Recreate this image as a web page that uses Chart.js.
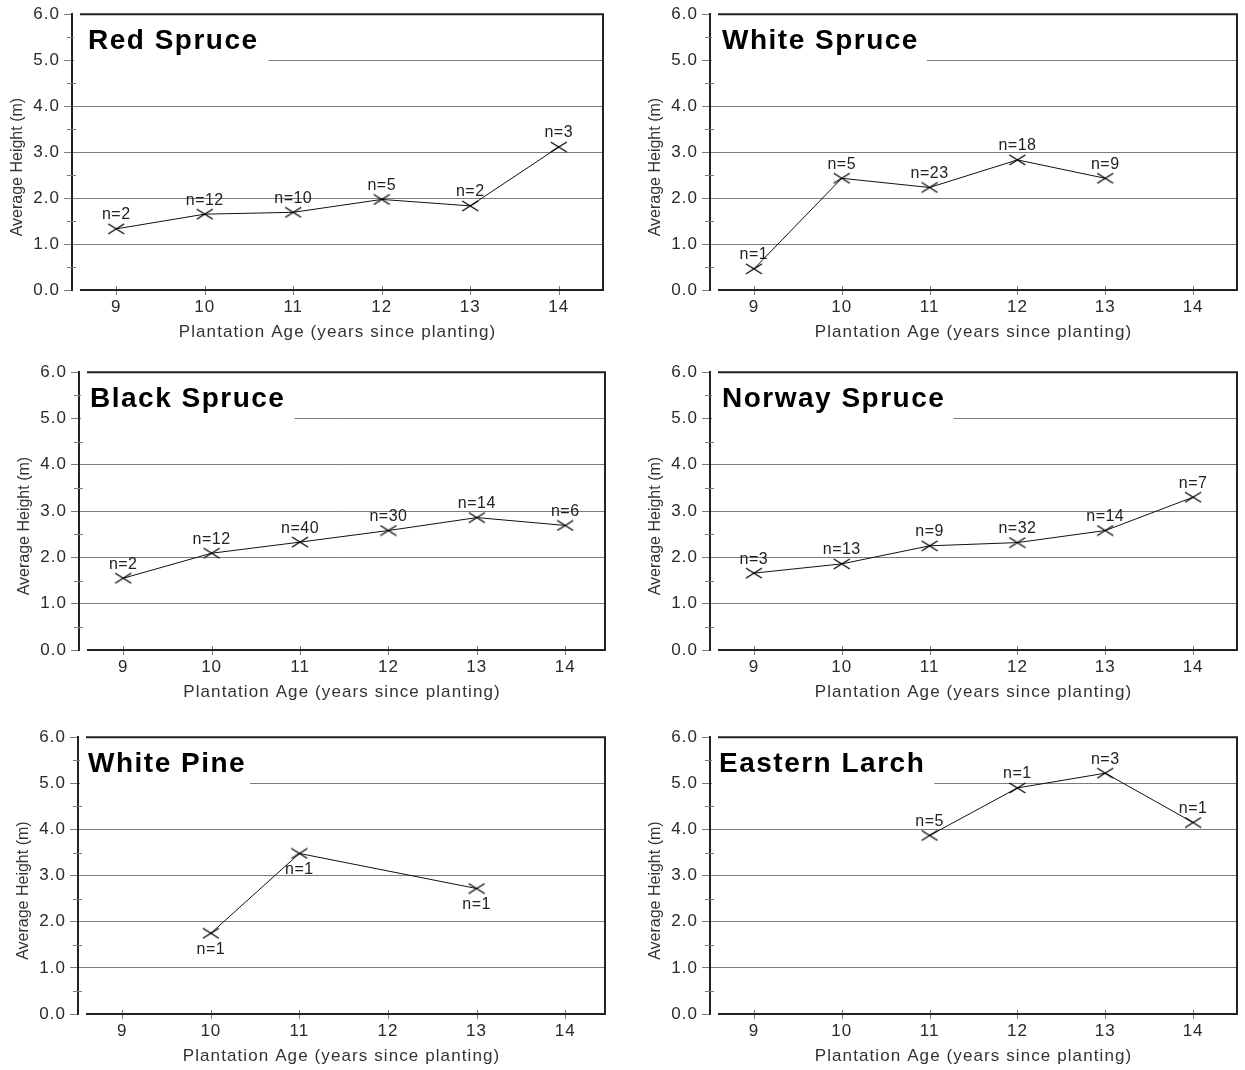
<!DOCTYPE html>
<html>
<head>
<meta charset="utf-8">
<script src="https://cdn.jsdelivr.net/npm/chart.js@4.4.1/dist/chart.umd.min.js"></script>
<style>
  body { margin: 0; background: #fff; width: 1245px; height: 1070px; overflow: hidden; position: relative; }
  canvas { position: absolute; }
</style>
</head>
<body>
<canvas id="redSpruce" width="611" height="350" style="left:0px;top:0px"></canvas>
<canvas id="whiteSpruce" width="606" height="350" style="left:638px;top:0px"></canvas>
<canvas id="blackSpruce" width="606" height="352" style="left:7px;top:358px"></canvas>
<canvas id="norwaySpruce" width="606" height="352" style="left:638px;top:358px"></canvas>
<canvas id="whitePine" width="606" height="351" style="left:6px;top:723px"></canvas>
<canvas id="easternLarch" width="606" height="351" style="left:638px;top:723px"></canvas>
<script>
// values
const ageTicks = [9, 10, 11, 12, 13, 14];
const heightTicks = [0, 1, 2, 3, 4, 5, 6];

const redAges = [9, 10, 11, 12, 13, 14];
const redHeights = [1.33, 1.65, 1.69, 1.97, 1.83, 3.11];
const redCounts = [2, 12, 10, 5, 2, 3];

const whiteSpruceAges = [9, 10, 11, 12, 13];
const whiteSpruceHeights = [0.46, 2.43, 2.23, 2.83, 2.43];
const whiteSpruceCounts = [1, 5, 23, 18, 9];

const blackAges = [9, 10, 11, 12, 13, 14];
const blackHeights = [1.55, 2.09, 2.33, 2.58, 2.86, 2.69];
const blackCounts = [2, 12, 40, 30, 14, 6];

const norwayAges = [9, 10, 11, 12, 13, 14];
const norwayHeights = [1.66, 1.86, 2.25, 2.32, 2.58, 3.30];
const norwayCounts = [3, 13, 9, 32, 14, 7];

const pineAges = [10, 11, 13];
const pineHeights = [1.75, 3.48, 2.72];
const pineCounts = [1, 1, 1];

const larchAges = [11, 12, 13, 14];
const larchHeights = [3.87, 4.90, 5.22, 4.15];
const larchCounts = [5, 1, 3, 1];

const xTitle = 'Plantation Age (years since planting)';
const yTitle = 'Average Height (m)';

const FONT = '"Liberation Sans", Arial, sans-serif';
const GRID = '#7c7c7c';
const INK = '#222';

// the little "x" marker, a bit wider than tall
const cross = document.createElement('canvas');
cross.width = 18;
cross.height = 12;
const g = cross.getContext('2d');
g.strokeStyle = '#000';
g.lineWidth = 1.3;
g.beginPath();
g.moveTo(1, 1); g.lineTo(17, 11);
g.moveTo(1, 11); g.lineTo(17, 1);
g.stroke();

const framePlugin = {
  id: 'frame',
  beforeDraw(chart) {
    chart.ctx.letterSpacing = '1px';
  },
  beforeDatasetsDraw(chart, args, opts) {
    const { ctx, chartArea: a, scales: { x, y } } = chart;
    ctx.save();
    ctx.strokeStyle = GRID;
    ctx.lineWidth = 1;
    ctx.beginPath();
    for (let i = 0; i < heightTicks.length - 1; i++) {
      const py = Math.round(y.getPixelForValue((heightTicks[i] + heightTicks[i + 1]) / 2)) + 0.5;
      ctx.moveTo(a.left - 5, py);
      ctx.lineTo(a.left + 4, py);
    }
    ageTicks.forEach((v) => {
      const px = Math.round(x.getPixelForValue(v)) + 0.5;
      ctx.moveTo(px, a.bottom - 4);
      ctx.lineTo(px, a.bottom + 5);
    });
    ctx.stroke();

    ctx.strokeStyle = INK;
    ctx.lineWidth = 2;
    ctx.beginPath();
    ctx.moveTo(a.left + 8, a.top);
    ctx.lineTo(a.right, a.top);
    ctx.lineTo(a.right, a.bottom);
    ctx.lineTo(a.left + 8, a.bottom);
    ctx.stroke();

    // axis titles
    ctx.fillStyle = '#333';
    ctx.textAlign = 'center';
    ctx.textBaseline = 'middle';
    ctx.font = '17px ' + FONT;
    ctx.letterSpacing = '1.1px';
    ctx.fillText(xTitle, (a.left + a.right) / 2, a.bottom + 42);
    ctx.save();
    ctx.translate(a.left - 54, (a.top + a.bottom) / 2 + 15);
    ctx.rotate(-Math.PI / 2);
    ctx.font = '16px ' + FONT;
    ctx.letterSpacing = '0px';
    ctx.fillText(yTitle, 0, 0);
    ctx.restore();

    // species name on a white patch that hides the 5.0 line
    ctx.font = 'bold 28px ' + FONT;
    ctx.letterSpacing = '1.5px';
    ctx.textAlign = 'left';
    const w = ctx.measureText(opts.title).width;
    ctx.fillStyle = '#fff';
    ctx.fillRect(a.left + 2, a.top + 2, w + opts.pad, 48);
    ctx.fillStyle = '#000';
    ctx.fillText(opts.title, a.left + opts.indent, a.top + 27);
    ctx.restore();
  }
};

const countPlugin = {
  id: 'counts',
  afterDatasetsDraw(chart, args, opts) {
    const { ctx } = chart;
    const meta = chart.getDatasetMeta(0);
    ctx.save();
    ctx.font = '16px ' + FONT;
    ctx.letterSpacing = '0.5px';
    ctx.fillStyle = INK;
    ctx.textAlign = 'center';
    meta.data.forEach((pt, i) => {
      const label = 'n=' + opts.counts[i];
      if (opts.below) {
        ctx.textBaseline = 'top';
        ctx.fillText(label, pt.x, pt.y + 8);
      } else {
        ctx.textBaseline = 'bottom';
        ctx.fillText(label, pt.x, pt.y - 6);
      }
    });
    ctx.restore();
  }
};

function makePanel(id, title, ages, heights, counts, below, rightPad, xMax, indent, pad) {
  return new Chart(document.getElementById(id), {
    type: 'line',
    data: {
      datasets: [{
        data: ages.map((a, i) => ({ x: a, y: heights[i] })),
        borderColor: '#111',
        borderWidth: 1,
        pointStyle: cross,
        pointRadius: 6,
        fill: false,
        tension: 0
      }]
    },
    options: {
      responsive: false,
      animation: false,
      layout: { padding: { top: 14, right: rightPad, left: 0, bottom: 0 } },
      plugins: {
        legend: { display: false },
        tooltip: { enabled: false },
        frame: { title: title, indent: indent, pad: pad },
        counts: { counts: counts, below: below }
      },
      scales: {
        x: {
          type: 'linear',
          min: 8.5,
          max: xMax,
          afterBuildTicks: (s) => { s.ticks = ageTicks.map((v) => ({ value: v })); },
          afterFit: (s) => { s.height = 60; },
          grid: { drawOnChartArea: false, drawTicks: false },
          border: { display: false },
          ticks: { padding: 7, color: '#2a2a2a', font: { family: FONT, size: 17 }, callback: (v) => String(v) },
          title: { display: false }
        },
        y: {
          min: 0,
          max: 6,
          afterBuildTicks: (s) => { s.ticks = heightTicks.map((v) => ({ value: v })); },
          afterFit: (s) => { s.width = 72; },
          grid: {
            color: (c) => (c.tick && (c.tick.value === 0 || c.tick.value === 6)) ? 'rgba(0,0,0,0)' : GRID,
            tickColor: GRID,
            tickLength: 8,
            lineWidth: 1
          },
          border: { display: true, color: INK, width: 2 },
          ticks: { padding: 4, color: '#2a2a2a', font: { family: FONT, size: 17 }, callback: (v) => v.toFixed(1) },
          title: { display: false }
        }
      }
    },
    plugins: [framePlugin, countPlugin]
  });
}

makePanel('redSpruce', 'Red Spruce', redAges, redHeights, redCounts, false, 8, 14.5, 16, 24);
makePanel('whiteSpruce', 'White Spruce', whiteSpruceAges, whiteSpruceHeights, whiteSpruceCounts, false, 4, 14.5, 12, 18);
makePanel('blackSpruce', 'Black Spruce', blackAges, blackHeights, blackCounts, false, 8, 14.45, 11, 18);
makePanel('norwaySpruce', 'Norway Spruce', norwayAges, norwayHeights, norwayCounts, false, 4, 14.5, 12, 18);
makePanel('whitePine', 'White Pine', pineAges, pineHeights, pineCounts, true, 6, 14.45, 10, 12);
makePanel('easternLarch', 'Eastern Larch', larchAges, larchHeights, larchCounts, false, 4, 14.5, 9, 16);
</script>
</body>
</html>
